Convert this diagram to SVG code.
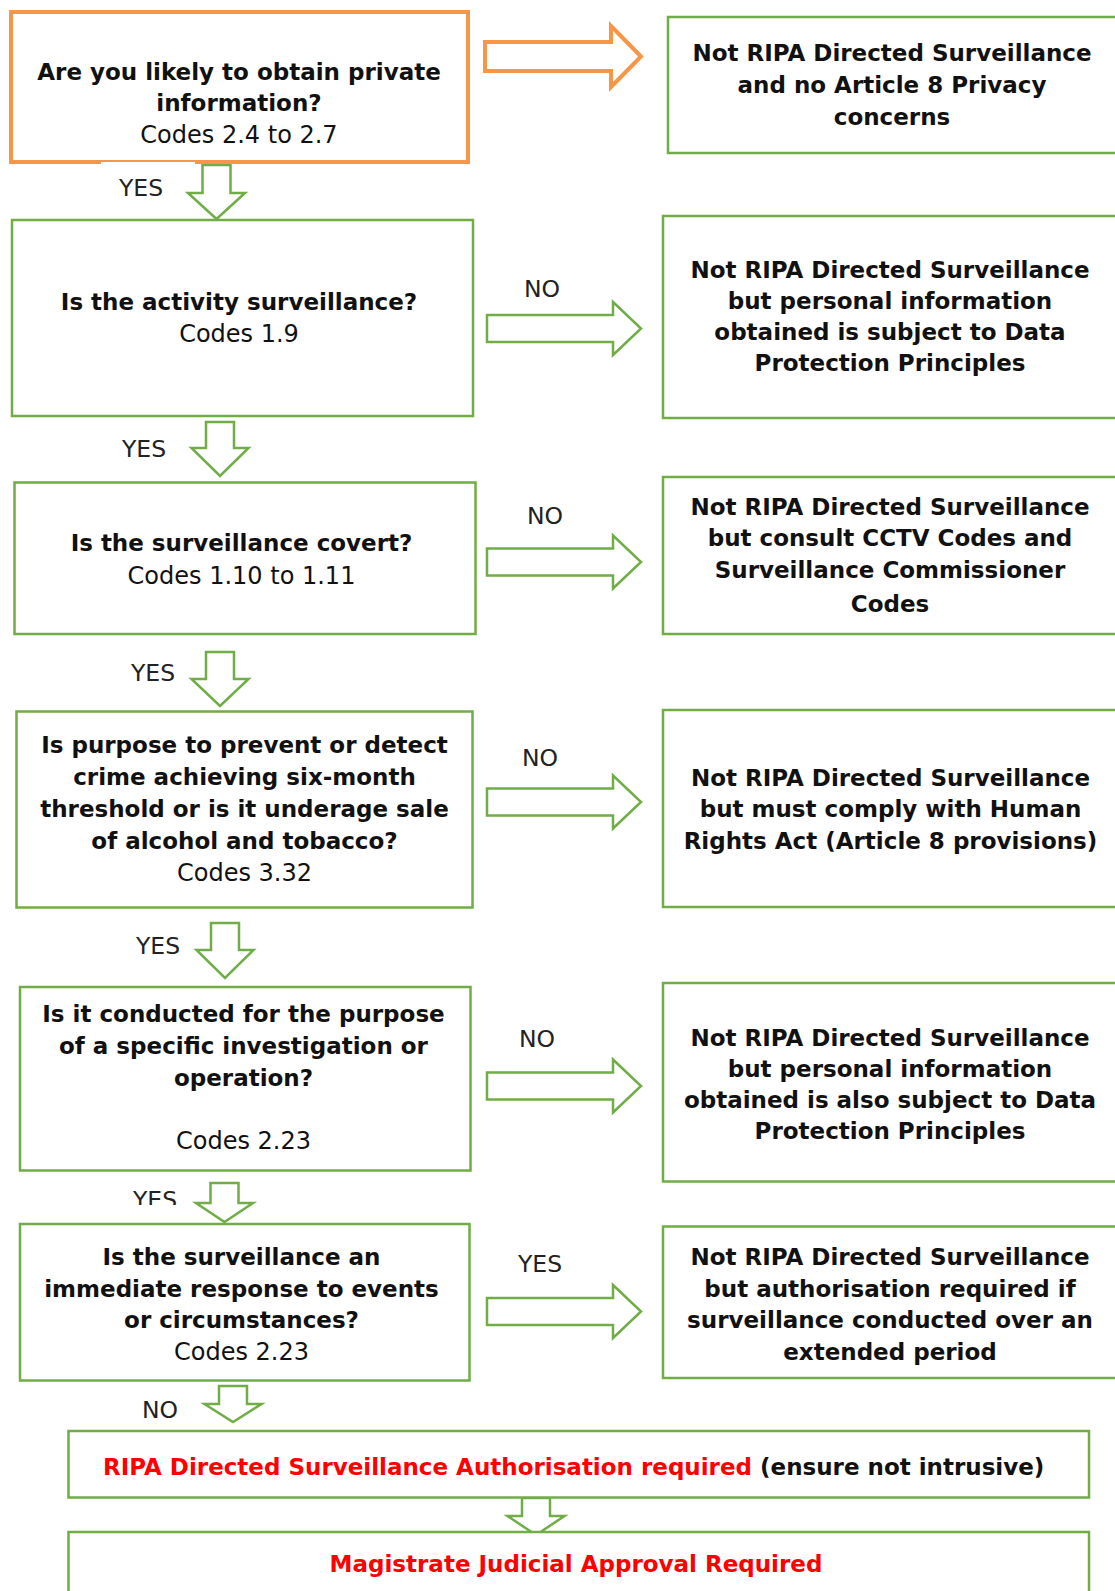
<svg xmlns="http://www.w3.org/2000/svg" width="1115" height="1591" viewBox="0 0 1115 1591">
<style>
.box{fill:#fff;stroke:#70AD47;stroke-width:2.5}
.obox{fill:#fff;stroke:#F79646;stroke-width:4}
.arr{fill:#fff;stroke:#70AD47;stroke-width:2.5;stroke-linejoin:miter}
.oarr{fill:#fff;stroke:#F79646;stroke-width:4;stroke-linejoin:miter}
text{font-family:"DejaVu Sans","Liberation Sans",sans-serif;font-size:24px;fill:#111;text-anchor:middle}
.b{font-weight:bold;font-size:23px}
.lbl{font-size:23.5px;fill:#222}
.red{fill:#FF0000;font-weight:bold;font-size:23px}
</style>
<defs>
<clipPath id="clipYes5"><rect x="100" y="1180" width="100" height="25"/></clipPath>
</defs>
<rect width="1115" height="1591" fill="#fff"/>

<g id="connectors">
<path class="oarr" d="M485,42 H611 V26 L641,56.5 L611,87 V71 H485 Z"/>
<path class="arr" d="M487,315 H613 V302 L641,328.5 L613,355 V342 H487 Z"/>
<path class="arr" d="M487,548.5 H613 V535.5 L641,562 L613,588.5 V575.5 H487 Z"/>
<path class="arr" d="M487,788.5 H613 V775.5 L641,802 L613,828.5 V815.5 H487 Z"/>
<path class="arr" d="M487,1072.5 H613 V1059.5 L641,1086 L613,1112.5 V1099.5 H487 Z"/>
<path class="arr" d="M487,1298 H613 V1285 L641,1311.5 L613,1338 V1325 H487 Z"/>
<path class="arr" d="M202.5,165 H230.5 V193 H245 L216.5,219 L188,193 H202.5 Z"/>
<path class="arr" d="M206,422 H234 V448 H248.5 L220,476 L191.5,448 H206 Z"/>
<path class="arr" d="M206,652 H234 V679 H248.5 L220,706 L191.5,679 H206 Z"/>
<path class="arr" d="M211,923 H239 V950 H253.5 L225,978 L196.5,950 H211 Z"/>
<path class="arr" d="M210.5,1183 H238.5 V1203 H253 L224.5,1222 L196,1203 H210.5 Z"/>
<path class="arr" d="M219,1386 H247 V1404 H261.5 L233,1422 L204.5,1404 H219 Z"/>
<path class="arr" d="M522,1498 H550 V1516 H564.5 L536,1535 L507.5,1516 H522 Z"/>
<text class="lbl" x="141" y="196">YES</text>
<text class="lbl" x="144" y="457">YES</text>
<text class="lbl" x="153" y="681">YES</text>
<text class="lbl" x="158" y="954">YES</text>
<text class="lbl" x="155" y="1208" clip-path="url(#clipYes5)">YES</text>
<text class="lbl" x="160" y="1418">NO</text>
<text class="lbl" x="542" y="297">NO</text>
<text class="lbl" x="545" y="524">NO</text>
<text class="lbl" x="540" y="766">NO</text>
<text class="lbl" x="537" y="1047">NO</text>
<text class="lbl" x="540" y="1272">YES</text>
</g>

<g id="q1">
<rect class="obox" x="11" y="12" width="457" height="150"/>
<rect x="101" y="162" width="94" height="3" fill="#fff"/>
<text class="b" x="239" y="80">Are you likely to obtain private</text>
<text class="b" x="239" y="111">information?</text>
<text x="239" y="143">Codes 2.4 to 2.7</text>
</g>
<g id="r1">
<rect class="box" x="668" y="17" width="470" height="136"/>
<text class="b" x="892" y="61">Not RIPA Directed Surveillance</text>
<text class="b" x="892" y="93">and no Article 8 Privacy</text>
<text class="b" x="892" y="125">concerns</text>
</g>

<g id="q2">
<rect class="box" x="12" y="220" width="461" height="196"/>
<text class="b" x="239" y="310">Is the activity surveillance?</text>
<text x="239" y="342">Codes 1.9</text>
</g>
<g id="r2">
<rect class="box" x="663" y="216" width="470" height="202"/>
<text class="b" x="890" y="278">Not RIPA Directed Surveillance</text>
<text class="b" x="890" y="309">but personal information</text>
<text class="b" x="890" y="340">obtained is subject to Data</text>
<text class="b" x="890" y="371">Protection Principles</text>
</g>

<g id="q3">
<rect class="box" x="14.5" y="482.5" width="461" height="151.5"/>
<text class="b" x="241.5" y="551">Is the surveillance covert?</text>
<text x="241.5" y="584">Codes 1.10 to 1.11</text>
</g>
<g id="r3">
<rect class="box" x="663" y="477" width="470" height="157"/>
<text class="b" x="890" y="515">Not RIPA Directed Surveillance</text>
<text class="b" x="890" y="546">but consult CCTV Codes and</text>
<text class="b" x="890" y="578">Surveillance Commissioner</text>
<text class="b" x="890" y="612">Codes</text>
</g>

<g id="q4">
<rect class="box" x="16.5" y="711.5" width="456" height="196"/>
<text class="b" x="244.5" y="753">Is purpose to prevent or detect</text>
<text class="b" x="244.5" y="785">crime achieving six-month</text>
<text class="b" x="244.5" y="817">threshold or is it underage sale</text>
<text class="b" x="244.5" y="849">of alcohol and tobacco?</text>
<text x="244.5" y="881">Codes 3.32</text>
</g>
<g id="r4">
<rect class="box" x="663" y="710" width="470" height="197"/>
<text class="b" x="890.5" y="786">Not RIPA Directed Surveillance</text>
<text class="b" x="890.5" y="817">but must comply with Human</text>
<text class="b" x="890.5" y="849">Rights Act (Article 8 provisions)</text>
</g>

<g id="q5">
<rect class="box" x="20" y="987" width="450.5" height="183.5"/>
<text class="b" x="243.5" y="1022">Is it conducted for the purpose</text>
<text class="b" x="243.5" y="1054">of a specific investigation or</text>
<text class="b" x="243.5" y="1086">operation?</text>
<text x="243.5" y="1149">Codes 2.23</text>
</g>
<g id="r5">
<rect class="box" x="663" y="983" width="470" height="198.5"/>
<text class="b" x="890" y="1046">Not RIPA Directed Surveillance</text>
<text class="b" x="890" y="1077">but personal information</text>
<text class="b" x="890" y="1108">obtained is also subject to Data</text>
<text class="b" x="890" y="1139">Protection Principles</text>
</g>

<g id="q6">
<rect class="box" x="20" y="1224" width="449.5" height="156.5"/>
<text class="b" x="241.5" y="1265">Is the surveillance an</text>
<text class="b" x="241.5" y="1297">immediate response to events</text>
<text class="b" x="241.5" y="1328">or circumstances?</text>
<text x="241.5" y="1360">Codes 2.23</text>
</g>
<g id="r6">
<rect class="box" x="663" y="1226.5" width="470" height="151.5"/>
<text class="b" x="890" y="1265">Not RIPA Directed Surveillance</text>
<text class="b" x="890" y="1297">but authorisation required if</text>
<text class="b" x="890" y="1328">surveillance conducted over an</text>
<text class="b" x="890" y="1360">extended period</text>
</g>

<g id="authorisation">
<rect class="box" x="68.5" y="1431" width="1020.5" height="66.5"/>
<text x="103" y="1475" style="text-anchor:start"><tspan class="red">RIPA Directed Surveillance Authorisation required</tspan><tspan class="b"> (ensure not intrusive)</tspan></text>
</g>

<g id="approval">
<rect class="box" x="68.5" y="1532" width="1020.5" height="80"/>
<text class="red" x="576" y="1572">Magistrate Judicial Approval Required</text>
</g>
</svg>
